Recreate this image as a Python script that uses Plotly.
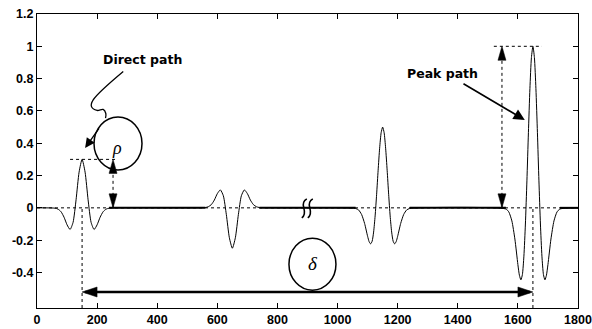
import plotly.graph_objects as go

# ---------------- data ----------------
signal_x = [0,
            60, 70, 80, 90, 100, 110, 120, 130, 140, 150, 160, 170, 180, 190, 200, 210, 220, 230, 240,
            560, 570, 580, 590, 600, 610, 620, 630, 640, 650, 660, 670, 680, 690, 700, 710, 720, 730, 740,
            1060, 1070, 1080, 1090, 1100, 1105, 1110, 1115, 1120, 1125, 1130, 1135, 1140, 1145, 1150,
            1155, 1160, 1165, 1170, 1175, 1180, 1185, 1190, 1195, 1200, 1210, 1220, 1230, 1240,
            1560, 1570, 1580, 1590, 1600, 1605, 1610, 1615, 1620, 1625, 1630, 1635, 1640, 1645, 1650,
            1655, 1660, 1665, 1670, 1675, 1680, 1685, 1690, 1695, 1700, 1710, 1720, 1730, 1740,
            1800]
signal_y = [0,
            -0.002, -0.008, -0.024, -0.058, -0.105, -0.134, -0.090, 0.050, 0.221, 0.300, 0.221, 0.050, -0.090, -0.134, -0.105, -0.058, -0.024, -0.008, -0.002,
            0.002, 0.007, 0.020, 0.048, 0.088, 0.111, 0.075, -0.042, -0.185, -0.250, -0.185, -0.042, 0.075, 0.111, 0.088, 0.048, 0.020, 0.007, 0.002,
            -0.004, -0.013, -0.041, -0.097, -0.176, -0.209, -0.223, -0.207, -0.150, -0.050, 0.084, 0.233, 0.369, 0.465, 0.500,
            0.465, 0.369, 0.233, 0.084, -0.050, -0.150, -0.207, -0.223, -0.209, -0.176, -0.097, -0.041, -0.013, -0.004,
            -0.007, -0.026, -0.081, -0.193, -0.351, -0.417, -0.446, -0.413, -0.299, -0.100, 0.167, 0.465, 0.738, 0.930, 1.000,
            0.930, 0.738, 0.465, 0.167, -0.100, -0.299, -0.413, -0.446, -0.417, -0.351, -0.193, -0.081, -0.026, -0.007,
            0]

flat_start = [240, 740, 1240, 1740]
flat_end = [560, 1060, 1560, 1800]

x_ticks = [0, 200, 400, 600, 800, 1000, 1200, 1400, 1600, 1800]
x_tick_labels = ["0", "200", "400", "600", "800", "1000", "1200", "1400", "1600", "1800"]
y_ticks = [-0.4, -0.2, 0, 0.2, 0.4, 0.6, 0.8, 1, 1.2]
y_tick_labels = ["-0.4", "-0.2", "0", "0.2", "0.4", "0.6", "0.8", "1", "1.2"]

x_range = [0, 1800]
y_range = [-0.62, 1.2]

# annotation geometry (data units)
direct_peak_x, direct_peak_y = 150, 0.3
peak_x, peak_y = 1650, 1.0
rho_arrow_x = 253
peak_arrow_x = 1547
delta_y = -0.521
squiggle_x = [287, 187, 181, 200, 220, 229, 228]
squiggle_y = [0.844, 0.668, 0.628, 0.603, 0.609, 0.584, 0.556]
break_x = 901

fig = go.Figure()

# signal
fig.add_trace(go.Scatter(x=signal_x, y=signal_y, mode="lines",
                         line=dict(color="black", width=1, shape="spline", smoothing=0.6),
                         hoverinfo="skip"))
# thicker flat baseline pieces
for a, b in zip(flat_start, flat_end):
    fig.add_trace(go.Scatter(x=[a, b], y=[0, 0], mode="lines",
                             line=dict(color="black", width=2), hoverinfo="skip"))
# squiggle from "Direct path"
fig.add_trace(go.Scatter(x=squiggle_x, y=squiggle_y, mode="lines",
                         line=dict(color="black", width=1.3, shape="spline", smoothing=1.0),
                         hoverinfo="skip"))

shapes = []
dot = dict(color="black", width=1, dash="dot")
# zero line
shapes.append(dict(type="line", xref="x", yref="y", x0=x_range[0], x1=x_range[1], y0=0, y1=0, line=dot, layer="below"))
# rho construction
shapes.append(dict(type="line", xref="x", yref="y", x0=110, x1=266, y0=direct_peak_y, y1=direct_peak_y, line=dot))
shapes.append(dict(type="line", xref="x", yref="y", x0=rho_arrow_x, x1=rho_arrow_x, y0=0, y1=direct_peak_y, line=dot))
# peak construction
shapes.append(dict(type="line", xref="x", yref="y", x0=1520, x1=1680, y0=peak_y, y1=peak_y, line=dot))
shapes.append(dict(type="line", xref="x", yref="y", x0=peak_arrow_x, x1=peak_arrow_x, y0=0, y1=peak_y, line=dot))
# vertical dotted drops
shapes.append(dict(type="line", xref="x", yref="y", x0=direct_peak_x, x1=direct_peak_x, y0=y_range[0], y1=0, line=dot))
shapes.append(dict(type="line", xref="x", yref="y", x0=peak_x, x1=peak_x, y0=y_range[0], y1=0, line=dot))
# delta line
shapes.append(dict(type="line", xref="x", yref="y", x0=direct_peak_x + 10, x1=peak_x - 10, y0=delta_y, y1=delta_y,
                   line=dict(color="black", width=2.5)))


def head(x, y, path):
    return dict(type="path", xref="x", yref="y", xsizemode="pixel", ysizemode="pixel",
                xanchor=x, yanchor=y, path=path, fillcolor="black",
                line=dict(color="black", width=0.5))


UP = "M0,0 L-4,-14 L4,-14 Z"
DOWN = "M0,0 L-4,14 L4,14 Z"
LEFT = "M0,0 L15,5 L15,-5 Z"
RIGHT = "M0,0 L-15,5 L-15,-5 Z"
shapes += [head(rho_arrow_x, direct_peak_y, UP), head(rho_arrow_x, 0, DOWN),
           head(peak_arrow_x, peak_y, UP), head(peak_arrow_x, 0, DOWN),
           head(direct_peak_x, delta_y, LEFT), head(peak_x, delta_y, RIGHT)]

# circles
def circ(x, y, w, h):
    return dict(type="circle", xref="x", yref="y", xsizemode="pixel", ysizemode="pixel",
                xanchor=x, yanchor=y, x0=-w / 2, x1=w / 2, y0=-h / 2, y1=h / 2,
                line=dict(color="black", width=1.5))


shapes.append(circ(269.5, 0.398, 48, 53))
shapes.append(circ(916.5, -0.349, 47, 52))

# break symbol
for dx in (-4, 2):
    p = f"M{dx-2},-10 Q{dx+2},-7 {dx},0 Q{dx-2},6 {dx+3},9"
    shapes.append(dict(type="path", xref="x", yref="y", xsizemode="pixel", ysizemode="pixel",
                       xanchor=break_x, yanchor=0, path=p, line=dict(color="black", width=1.6)))

annotations = [
    dict(x=352, y=0.916, xref="x", yref="y", text="<b>Direct path</b>", showarrow=False,
         font=dict(family="DejaVu Sans", size=12.5, color="black")),
    dict(x=1349, y=0.829, xref="x", yref="y", text="<b>Peak path</b>", showarrow=False,
         font=dict(family="DejaVu Sans", size=12.5, color="black")),
    dict(x=267, y=0.37, xref="x", yref="y", text="<i>ρ</i>", showarrow=False,
         font=dict(family="Liberation Serif", size=18, color="black")),
    dict(x=918, y=-0.343, xref="x", yref="y", text="<i>δ</i>", showarrow=False,
         font=dict(family="Liberation Serif", size=19, color="black")),
    dict(x=160, y=0.371, ax=210, ay=0.501, axref="x", ayref="y", xref="x", yref="y", text="",
         showarrow=True, arrowhead=2, arrowsize=1.5, arrowwidth=1.3, arrowcolor="black"),
    dict(x=1623, y=0.544, ax=1414, ay=0.774, axref="x", ayref="y", xref="x", yref="y", text="",
         showarrow=True, arrowhead=2, arrowsize=1.4, arrowwidth=1.6, arrowcolor="black"),
]

axis_common = dict(showline=True, linecolor="black", linewidth=1, mirror="ticks",
                   ticks="inside", ticklen=5, tickcolor="black", showgrid=False, zeroline=False,
                   automargin=False,
                   tickfont=dict(family="Liberation Sans", size=12.5, color="black"))

fig.update_layout(
    width=592, height=329,
    margin=dict(l=37, r=14, t=14, b=21),
    paper_bgcolor="white", plot_bgcolor="white",
    showlegend=False,
    xaxis=dict(range=x_range, tickvals=x_ticks,
               ticktext=[f"<b>{t}</b>" for t in x_tick_labels], **axis_common),
    yaxis=dict(range=y_range, tickvals=y_ticks,
               ticktext=[f"<b>{t}</b>" for t in y_tick_labels], **axis_common),
    shapes=shapes,
    annotations=annotations,
)

fig.write_html("out.html")
